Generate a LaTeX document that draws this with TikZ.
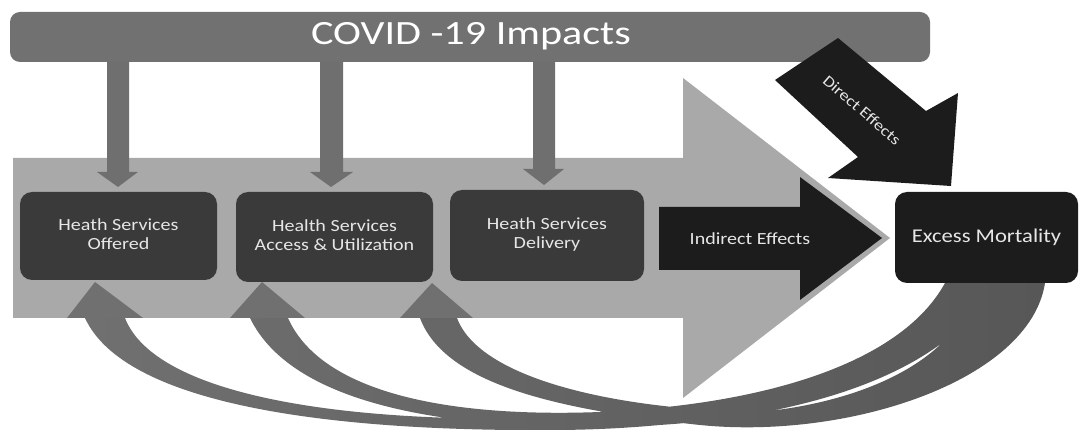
\documentclass[tikz,border=0pt]{standalone}
\usepackage{fontspec}
\usepackage{graphicx}
\newfontfamily\carl{Carlito}
\definecolor{bannergray}{HTML}{717171}
\definecolor{downgray}{HTML}{6F6F6F}
\definecolor{lightgray2}{HTML}{A9A9A9}
\definecolor{boxdark}{HTML}{3A3A3A}
\definecolor{blackish}{HTML}{1C1C1C}
\definecolor{bandleft}{HTML}{707070}
\definecolor{bandright}{HTML}{575757}
\definecolor{txtlight}{HTML}{E6E6E6}
\newcommand{\wide}[2]{\scalebox{#1}[1]{#2}}
\newcommand{\twol}[2]{\begin{tabular}{@{}c@{}}#1\\#2\end{tabular}}
\begin{document}
\begin{tikzpicture}[x=1pt,y=-1pt,
  hsbox/.style={rectangle, rounded corners=12pt, fill=boxdark, draw=none,
    inner sep=0pt, outer sep=0pt, text=txtlight, align=center,
    font=\carl\fontsize{17}{19}\selectfont},
  blkbox/.style={rectangle, rounded corners=12pt, fill=blackish, draw=none,
    inner sep=0pt, outer sep=0pt, text=txtlight,
    font=\carl\fontsize{19.5}{22}\selectfont},
  lbl/.style={inner sep=0pt, outer sep=0pt, text=txtlight},
  downarrow/.style={fill=downgray},
  headstyle/.style={fill=bandleft},
]
\useasboundingbox (0,0) rectangle (1080,430);
\fill[white] (0,0) rectangle (1080,430);

% big light arrow
\fill[lightgray2] (13,158) -- (683,158) -- (683,78) -- (890,238) -- (683,398)
  -- (683,318) -- (13,318) -- cycle;

% curved feedback bands (one shaded path)
\path[left color=bandleft, right color=bandright]
  (85,318) .. controls (125,405) and (330,432) .. (560,430)
  .. controls (760,428) and (940,380) .. (995,283) -- (945,283)
  .. controls (900,370) and (740,412) .. (560,418)
  .. controls (340,424) and (155,395) .. (125,318) -- cycle
  (250,318) .. controls (290,400) and (430,428) .. (600,427)
  .. controls (780,426) and (945,380) .. (995,283) -- (945,283)
  .. controls (900,365) and (760,405) .. (600,412)
  .. controls (440,418) and (320,390) .. (288,318) -- cycle
  (420,318) .. controls (445,385) and (560,410) .. (700,425)
  .. controls (850,440) and (1030,380) .. (1045,283) -- (975,283)
  .. controls (965,350) and (880,400) .. (760,412)
  .. controls (620,410) and (480,380) .. (457,318) -- cycle;

% boxes
\node[hsbox, minimum width=197pt, minimum height=88pt] (b1) at (118.5,236)
  {\wide{1.18}{\twol{Heath Services}{Offered}}};
\node[hsbox, minimum width=197pt, minimum height=90pt] (b2) at (334.5,237)
  {\wide{1.18}{\twol{Health Services}{Access \& Utilization}}};
\node[hsbox, minimum width=194pt, minimum height=91pt] (b3) at (547,235.5)
  {\wide{1.18}{\twol{Heath Services}{Delivery}}};

% arrowheads of the bands (pointing up to the boxes)
\fill[headstyle] (95,282) -- (67,318) -- (143,318) -- cycle;
\fill[headstyle] (262,282) -- (230,318) -- (305,318) -- cycle;
\fill[headstyle] (432,283) -- (400,318) -- (473,318) -- cycle;

% banner
\node[rectangle, rounded corners=10pt, fill=bannergray, inner sep=0pt, outer sep=0pt,
  minimum width=920pt, minimum height=50pt] (banner) at (470,37) {};
\node[lbl, anchor=base, text=white, font=\carl\fontsize{34}{40}\selectfont]
  (bannertext) at (471,45) {\wide{1.24}{COVID -19 Impacts}};

% down arrows from banner to boxes
\fill[downarrow] (107,62) -- (107,172) -- (97,172) -- (118,187) -- (138,172)
  -- (129,172) -- (129,62) -- cycle;
\fill[downarrow] (320,62) -- (320,172) -- (310,172) -- (331,187) -- (353,172)
  -- (343,172) -- (343,62) -- cycle;
\fill[downarrow] (533,62) -- (533,169) -- (523,169) -- (544,185) -- (564,169)
  -- (555,169) -- (555,62) -- cycle;

% indirect effects arrow
\fill[blackish] (659,207) -- (800,207) -- (800,177) -- (882,238) -- (800,300)
  -- (800,270) -- (659,270) -- cycle;
\node[lbl, font=\carl\fontsize{17}{19}\selectfont] (ind) at (750,239)
  {\wide{1.18}{Indirect Effects}};

% excess mortality
\node[blkbox, minimum width=183pt, minimum height=91pt] (em) at (986.5,237.5)
  {\wide{1.16}{Excess Mortality}};

% direct effects arrow
\fill[blackish] (838,38) -- (775,80) -- (858,157) -- (828,178) -- (951,186)
  -- (958,93) -- (926,111) -- cycle;
\node[lbl, rotate=-41, font=\carl\fontsize{15.5}{17}\selectfont] (dir) at (862,110)
  {\wide{1.18}{Direct Effects}};
\end{tikzpicture}
\end{document}
